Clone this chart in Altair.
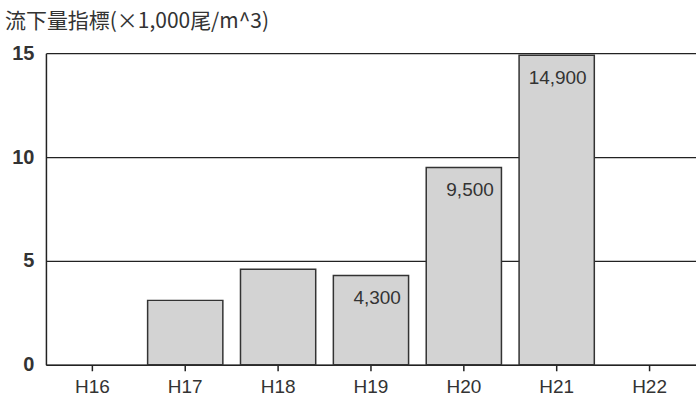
import altair as alt
import pandas as pd

years = ["H16", "H17", "H18", "H19", "H20", "H21", "H22"]
values = [None, 3.1, 4.6, 4.3, 9.5, 14.9, None]
labels = ["", "", "", "4,300", "9,500", "14,900", ""]

df = pd.DataFrame({"year": years, "value": values, "label": labels})

x = alt.X("year:N", sort=years, title=None,
          scale=alt.Scale(paddingInner=0.19, paddingOuter=0.095),
          axis=alt.Axis(labelAngle=0, labelFont="Liberation Sans", labelFontSize=19,
                        labelColor="#333", tickColor="#222", tickSize=6, tickWidth=1.5,
                        domainColor="#222", domainWidth=1.5, labelPadding=7, grid=False))
y = alt.Y("value:Q", title=None,
          scale=alt.Scale(domain=[0, 15], nice=False),
          axis=alt.Axis(values=[0, 5, 10, 15], labelFont="Liberation Sans", labelFontSize=20,
                        labelFontWeight="bold", labelColor="#333", ticks=False,
                        labelPadding=12, domainColor="#222", domainWidth=1.5,
                        gridColor="#222", gridWidth=1.2, gridOpacity=1))

base = alt.Chart(df)
bars = base.mark_bar(fill="#d3d3d3", stroke="#333", strokeWidth=1.5).encode(x=x, y=y)
text = base.mark_text(align="right", baseline="top", dx=30, dy=14,
                      font="Liberation Sans", fontSize=19, color="#333").encode(
    x=alt.X("year:N", sort=years), y="value:Q", text="label:N")

chart = (bars + text).properties(
    width=651, height=312,
    title=alt.TitleParams("流下量指標(×1,000尾/m^3)", anchor="start", frame="group",
                          font="Noto Sans CJK JP",
                          fontSize=21, fontWeight="normal", color="#333", offset=11, dx=-41),
    autosize=alt.AutoSizeParams(type="none"),
    padding={"left": 46, "top": 53, "right": 0, "bottom": 35},
).configure_view(stroke=None)

chart.save("out.html", embed_options={"renderer": "svg", "actions": False})
